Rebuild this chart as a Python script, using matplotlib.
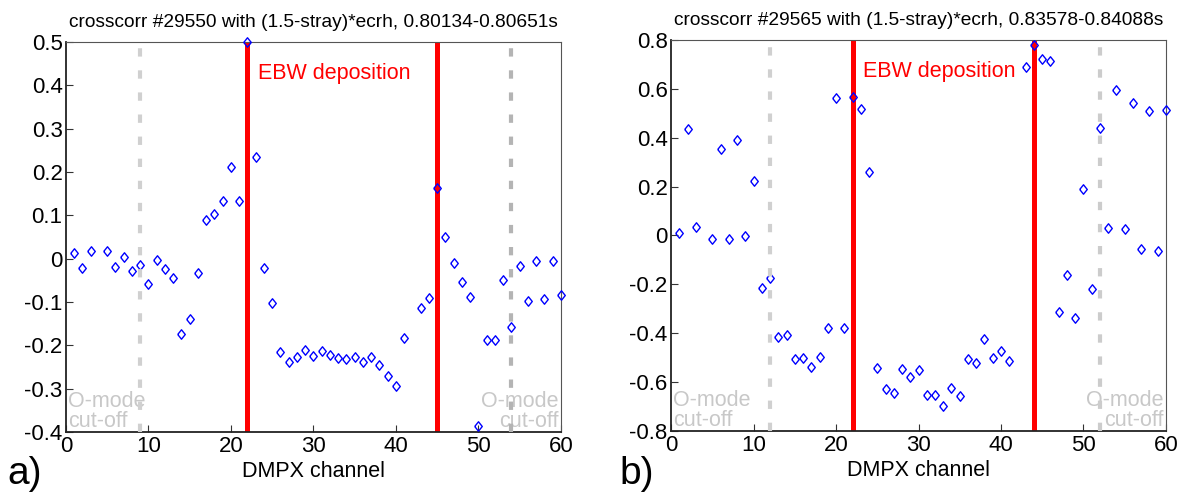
import numpy as np
import matplotlib
matplotlib.use("Agg")
import matplotlib.pyplot as plt

plt.rcParams['font.family'] = ['Liberation Sans', 'DejaVu Sans']

# panel a) #29550
ch_a = [1, 2, 3, 5, 6, 7, 8, 9, 10, 11, 12, 13, 14, 15, 16, 17, 18, 19, 20,
        21, 22, 23, 24, 25, 26, 27, 28, 29, 30, 31, 32, 33, 34, 35, 36, 37,
        38, 39, 40, 41, 43, 44, 45, 46, 47, 48, 49, 50, 51, 52, 53, 54, 55,
        56, 57, 58, 59, 60]
corr_a = [0.013, -0.021, 0.017, 0.017, -0.020, 0.004, -0.028, -0.014, -0.058,
          -0.002, -0.025, -0.045, -0.173, -0.139, -0.033, 0.089, 0.103, 0.132,
          0.212, 0.132, 0.500, 0.234, -0.021, -0.102, -0.216, -0.238, -0.228,
          -0.210, -0.224, -0.212, -0.223, -0.230, -0.232, -0.226, -0.238,
          -0.228, -0.245, -0.271, -0.295, -0.182, -0.114, -0.091, 0.163,
          0.050, -0.009, -0.055, -0.088, -0.387, -0.188, -0.188, -0.050,
          -0.157, -0.016, -0.097, -0.006, -0.092, -0.006, -0.083]

# panel b) #29565
ch_b = [1, 2, 3, 5, 6, 7, 8, 9, 10, 11, 12, 13, 14, 15, 16, 17, 18, 19, 20,
        21, 22, 23, 24, 25, 26, 27, 28, 29, 30, 31, 32, 33, 34, 35, 36, 37,
        38, 39, 40, 41, 43, 44, 45, 46, 47, 48, 49, 50, 51, 52, 53, 54, 55,
        56, 57, 58, 59, 60]
corr_b = [0.012, 0.434, 0.035, -0.016, 0.355, -0.016, 0.390, -0.003, 0.224,
          -0.214, -0.176, -0.417, -0.407, -0.504, -0.501, -0.539, -0.498,
          -0.378, 0.561, -0.378, 0.568, 0.516, 0.260, -0.542, -0.628, -0.643,
          -0.545, -0.579, -0.552, -0.653, -0.653, -0.698, -0.625, -0.658,
          -0.504, -0.522, -0.422, -0.502, -0.471, -0.515, 0.690, 0.779,
          0.723, 0.714, -0.315, -0.160, -0.336, 0.190, -0.217, 0.438, 0.031,
          0.595, 0.027, 0.541, -0.057, 0.508, -0.063, 0.512]

titles = ["crosscorr #29550 with (1.5-stray)*ecrh, 0.80134-0.80651s",
          "crosscorr #29565 with (1.5-stray)*ecrh, 0.83578-0.84088s"]
ebw_a = [22, 45]
ebw_b = [22, 44]
cutoff_a = [9, 54]
cutoff_b = [12, 52]
ylim_a = (-0.4, 0.5)
ylim_b = (-0.8, 0.8)
yticks_a = [0.5, 0.4, 0.3, 0.2, 0.1, 0, -0.1, -0.2, -0.3, -0.4]
yticks_b = [0.8, 0.6, 0.4, 0.2, 0, -0.2, -0.4, -0.6, -0.8]

# matlab-ish diamond marker (wider than mpl 'd')
diamond = [(-0.4, 0), (0, 0.5), (0.4, 0), (0, -0.5), (-0.4, 0)]


def fmt(v):
    if abs(v) < 1e-9:
        return "0"
    return "%g" % v


fig = plt.figure(figsize=(11.87, 4.99), dpi=100)
ax_a = fig.add_axes([0.0556, 0.1343, 0.417, 0.7816])
ax_b = fig.add_axes([0.5653, 0.1363, 0.417, 0.7836])

panels = [
    (ax_a, ch_a, corr_a, ebw_a, cutoff_a, ['#d0d0d0', '#b4b4b4'], ylim_a,
     yticks_a, titles[0]),
    (ax_b, ch_b, corr_b, ebw_b, cutoff_b, ['#d0d0d0', '#cccccc'], ylim_b,
     yticks_b, titles[1]),
]

for ax, ch, corr, ebw, cut, ccol, ylim, yt, title in panels:
    for c, col in zip(cut, ccol):
        ax.axvline(c, color=col, lw=3, ls=(0, (2.0, 3.3)), zorder=4)
    for e in ebw:
        ax.axvline(e, color='#ff0000', lw=3.6, zorder=2)
    ax.plot(ch, corr, ls='none', marker=diamond, mfc='none', mec='#0000ff',
            ms=6.8, mew=1.0, zorder=3, clip_on=False)
    ax.set_xlim(0, 60)
    ax.set_ylim(*ylim)
    ax.set_xticks([0, 10, 20, 30, 40, 50, 60])
    ax.set_yticks(yt)
    ax.set_yticklabels([fmt(v) for v in yt])
    ax.tick_params(direction='in', labelsize=16, length=5, width=0.8,
                   colors='#333333', labelcolor='black')
    ax.tick_params(axis='y', pad=2.5)
    ax.tick_params(axis='x', pad=3)
    for s in ['left', 'bottom']:
        ax.spines[s].set_color('#222222')
        ax.spines[s].set_linewidth(1.3)
    for s in ['top', 'right']:
        ax.spines[s].set_color('#555555')
        ax.spines[s].set_linewidth(0.8)
    ax.set_title(title, fontsize=13.8, pad=11)
    ax.set_xlabel("DMPX channel", fontsize=15.5, labelpad=3)
    ax.text(ebw[0] + 1.3, ylim[1] - 0.08 * (ylim[1] - ylim[0]),
            "EBW deposition", color='#ff0000', fontsize=15.5,
            ha='left', va='center')
    ax.text(0.004, 0.0, "O-mode\ncut-off", transform=ax.transAxes,
            color='#c8c8c8', fontsize=15.5, ha='left', va='bottom',
            linespacing=0.95, zorder=1)
    ax.text(0.995, 0.0, "O-mode\ncut-off", transform=ax.transAxes,
            color='#c8c8c8', fontsize=15.5, ha='right', va='bottom',
            linespacing=0.95, zorder=1)

fig.text(0.006, 0.015, "a)", fontsize=28, ha='left', va='bottom')
fig.text(0.522, 0.015, "b)", fontsize=28, ha='left', va='bottom')

fig.savefig("out.png", dpi=100)
